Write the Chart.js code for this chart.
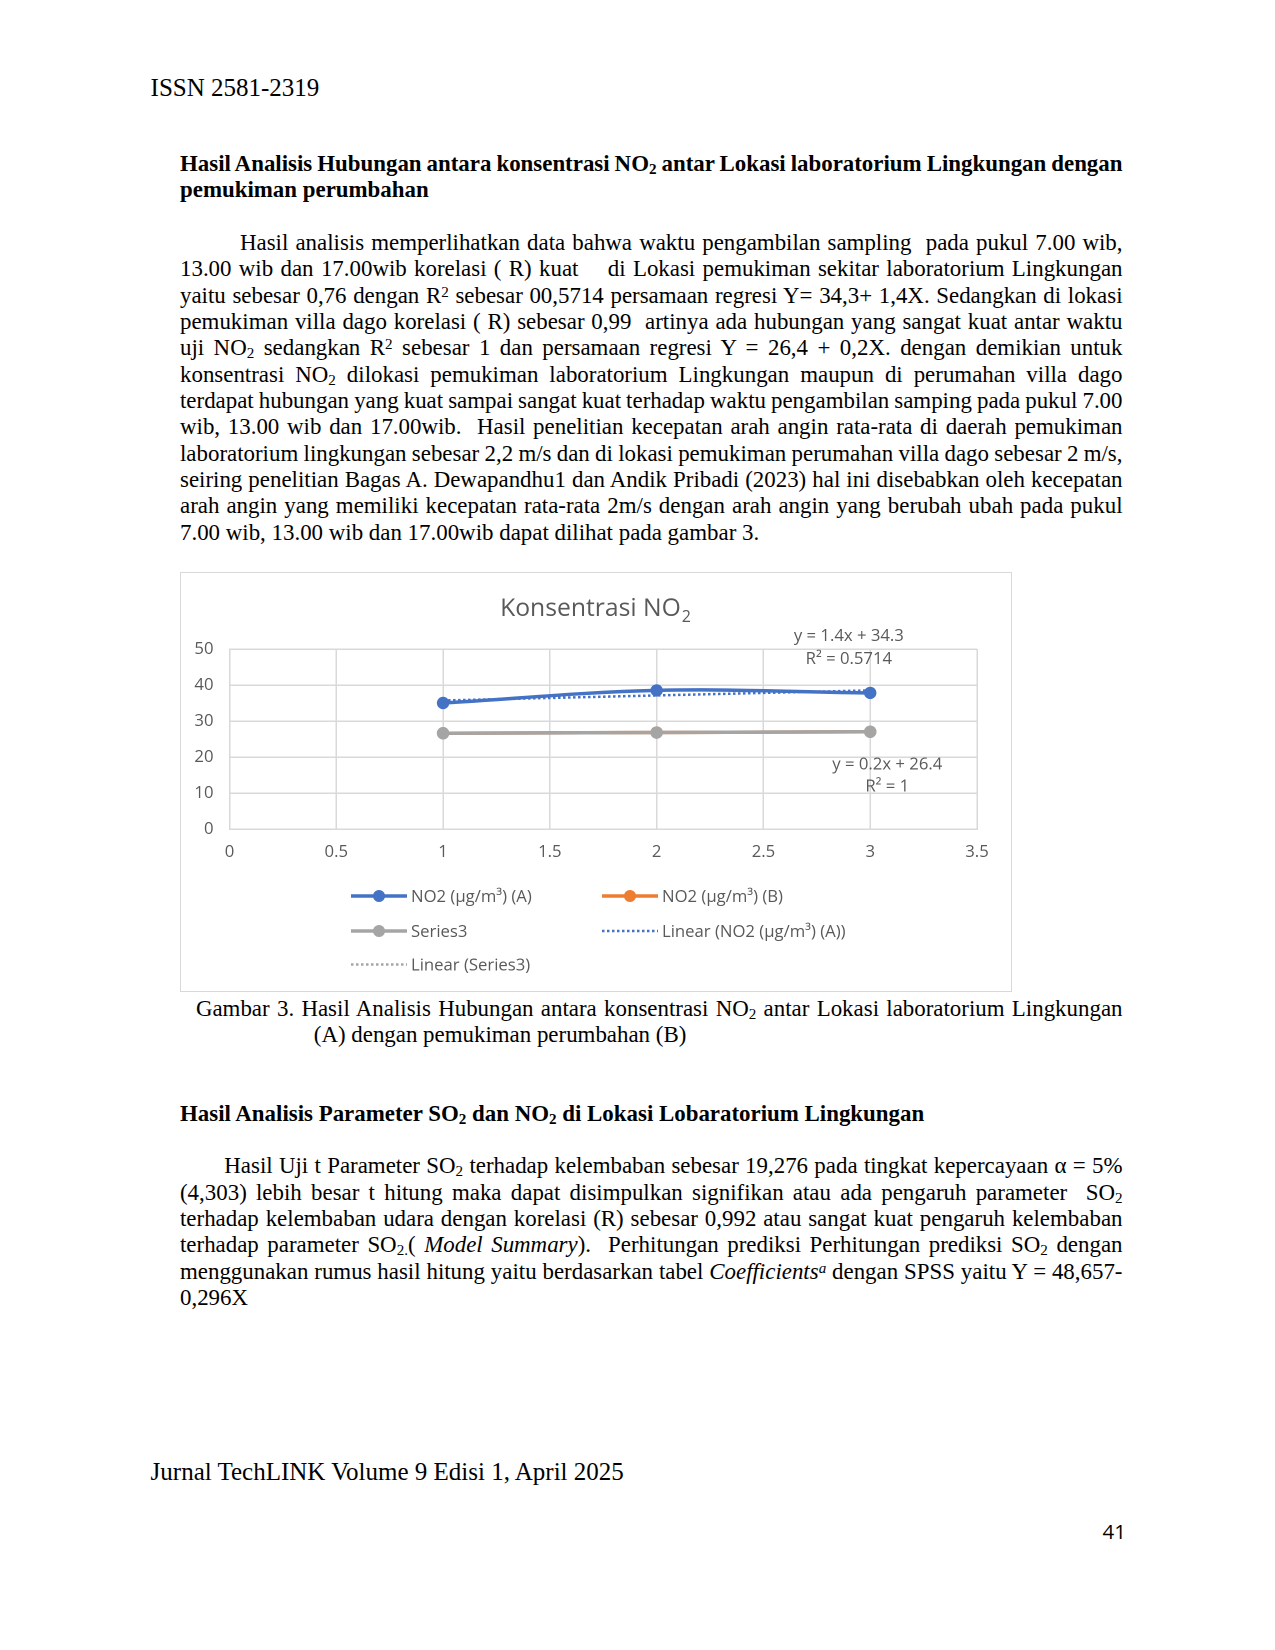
<!DOCTYPE html>
<html>
<head>
<meta charset="utf-8">
<title>Konsentrasi NO2</title>
<script src="https://cdn.jsdelivr.net/npm/chart.js@4.4.0/dist/chart.umd.min.js"></script>
<style>
html, body { margin: 0; padding: 0; background: #fff; }
body { width: 1275px; height: 1650px; position: relative; overflow: hidden;
       font-family: "Liberation Serif", "Times New Roman", serif; color: #000; }
.ln { position: absolute; white-space: pre; font-size: 22.9px; line-height: 26.35px; }
.hd { font-size: 25px; line-height: 28.75px; }
.b { font-weight: bold; }
.ln sub { font-size: 0.66em; vertical-align: -0.22em; line-height: 0; }
.ln sup { font-size: 0.66em; vertical-align: 0.42em; line-height: 0; }
#pg { position: absolute; font-family: "Open Sans", sans-serif; font-size: 20.5px; line-height: 24px; }
#chartBox { position: absolute; left: 180px; top: 572px; width: 832px; height: 420px;
            box-sizing: border-box; border: 1px solid #d9d9d9; background: #fff; }
#chartBox canvas { display: block; }
</style>
</head>
<body>

<div id="chartBox"><canvas id="myChart" width="830" height="418"></canvas></div>
<div id="pg">41</div>

<script>
// DATOS DEL GRAFICO
const CATEGORIES = [1, 2, 3];
const NO2_A = [35.0, 38.5, 37.8];
const NO2_B = [26.6, 26.8, 27.0];
const SERIES3 = [26.6, 26.8, 27.0];
const X_TICKS = [0, 0.5, 1, 1.5, 2, 2.5, 3, 3.5];
const Y_TICKS = [0, 10, 20, 30, 40, 50];
const SERIES_NAMES = ['NO2 (µg/m³) (A)', 'NO2 (µg/m³) (B)', 'Series3'];

const BLUE = '#4472C4';
const ORANGE = '#ED7D31';
const GRAY = '#A5A5A5';
const TEXT = '#595959';
const GRID = '#d9d9d9';

// TEXTO DE LA PAGINA: [html, izquierda, centro y, derecha (0 = sin justificar), clases]
const PAGE_LINES = [
    ['ISSN 2581-2319', 150.6, 88.3, 0, 'hd'],
    ['Hasil Analisis Hubungan antara konsentrasi NO<sub>2</sub> antar Lokasi laboratorium Lingkungan dengan', 180, 164.3, 1122.5, 'b'],
    ['pemukiman perumbahan', 180, 190.6, 0, 'b'],

    ['Hasil analisis memperlihatkan data bahwa waktu pengambilan sampling  pada pukul 7.00 wib,', 240, 243.2, 1122.5, ''],
    ['13.00 wib dan 17.00wib korelasi ( R) kuat    di Lokasi pemukiman sekitar laboratorium Lingkungan', 180, 269.5, 1122.5, ''],
    ['yaitu sebesar 0,76 dengan R<sup>2</sup> sebesar 00,5714 persamaan regresi Y= 34,3+ 1,4X. Sedangkan di lokasi', 180, 295.9, 1122.5, ''],
    ['pemukiman villa dago korelasi ( R) sebesar 0,99  artinya ada hubungan yang sangat kuat antar waktu', 180, 322.2, 1122.5, ''],
    ['uji NO<sub>2</sub> sedangkan R<sup>2</sup> sebesar 1 dan persamaan regresi Y = 26,4 + 0,2X. dengan demikian untuk', 180, 348.5, 1122.5, ''],
    ['konsentrasi NO<sub>2</sub> dilokasi pemukiman laboratorium Lingkungan maupun di perumahan villa dago', 180, 374.9, 1122.5, ''],
    ['terdapat hubungan yang kuat sampai sangat kuat terhadap waktu pengambilan samping pada pukul 7.00', 180, 401.2, 1122.5, ''],
    ['wib, 13.00 wib dan 17.00wib.  Hasil penelitian kecepatan arah angin rata-rata di daerah pemukiman', 180, 427.5, 1122.5, ''],
    ['laboratorium lingkungan sebesar 2,2 m/s dan di lokasi pemukiman perumahan villa dago sebesar 2 m/s,', 180, 453.9, 1122.5, ''],
    ['seiring penelitian Bagas A. Dewapandhu1 dan Andik Pribadi (2023) hal ini disebabkan oleh kecepatan', 180, 480.2, 1122.5, ''],
    ['arah angin yang memiliki kecepatan rata-rata 2m/s dengan arah angin yang berubah ubah pada pukul', 180, 506.5, 1122.5, ''],
    ['7.00 wib, 13.00 wib dan 17.00wib dapat dilihat pada gambar 3.', 180, 532.9, 0, ''],

    ['Gambar 3. Hasil Analisis Hubungan antara konsentrasi NO<sub>2</sub> antar Lokasi laboratorium Lingkungan', 195.9, 1008.8, 1122.5, ''],
    ['(A) dengan pemukiman perumbahan (B)', 313.8, 1035.1, 0, ''],

    ['Hasil Analisis Parameter SO<sub>2</sub> dan NO<sub>2</sub> di Lokasi Lobaratorium Lingkungan', 180, 1114, 0, 'b'],

    ['Hasil Uji t Parameter SO<sub>2</sub> terhadap kelembaban sebesar 19,276 pada tingkat kepercayaan α = 5%', 224.3, 1166.7, 1122.5, ''],
    ['(4,303) lebih besar t hitung maka dapat disimpulkan signifikan atau ada pengaruh parameter  SO<sub>2</sub>', 180, 1193, 1122.5, ''],
    ['terhadap kelembaban udara dengan korelasi (R) sebesar 0,992 atau sangat kuat pengaruh kelembaban', 180, 1219.4, 1122.5, ''],
    ['terhadap parameter SO<sub>2.</sub>( <i>Model Summary</i>).  Perhitungan prediksi Perhitungan prediksi SO<sub>2</sub> dengan', 180, 1245.7, 1122.5, ''],
    ['menggunakan rumus hasil hitung yaitu berdasarkan tabel <i>Coefficients<sup>a</sup></i> dengan SPSS yaitu Y = 48,657-', 180, 1272, 1122.5, ''],
    ['0,296X', 180, 1298.4, 0, ''],

    ['Jurnal TechLINK Volume 9 Edisi 1, April 2025', 150.6, 1472, 0, 'hd']
];

// Escribe cada renglon y lo justifica ajustando el espacio entre palabras
PAGE_LINES.forEach(([html, left, cy, right, cls]) => {
    const div = document.createElement('div');
    div.className = 'ln ' + cls;
    div.innerHTML = html;
    document.body.appendChild(div);
    const half = cls.includes('hd') ? 14.5 : 13.3;
    div.style.left = left + 'px';
    div.style.top = (cy - half) + 'px';
    if (right) {
        const natural = div.getBoundingClientRect().width;
        const spaces = (div.textContent.match(/ /g) || []).length;
        const target = right - left;
        if (spaces) div.style.wordSpacing = ((target - natural) / spaces) + 'px';
    }
});

const pg = document.getElementById('pg');
pg.style.left = (1126 - pg.getBoundingClientRect().width) + 'px';
pg.style.top = (1532 - 13) + 'px';

// Regresion lineal (linea de tendencia de Excel)
const linearFit = (xs, ys) => {
    const n = xs.length;
    const mx = xs.reduce((a, v) => a + v, 0) / n;
    const my = ys.reduce((a, v) => a + v, 0) / n;
    let sxy = 0, sxx = 0, syy = 0;
    for (let i = 0; i < n; i++) {
        sxy += (xs[i] - mx) * (ys[i] - my);
        sxx += (xs[i] - mx) ** 2;
        syy += (ys[i] - my) ** 2;
    }
    const m = sxy / sxx;
    return { m, b: my - m * mx, r2: (sxy * sxy) / (sxx * syy) };
};

const fitA = linearFit(CATEGORIES, NO2_A);
const fit3 = linearFit(CATEGORIES, SERIES3);
const points = (ys) => CATEGORIES.map((x, i) => ({ x, y: ys[i] }));
const trend = (fit) => CATEGORIES.map((x) => ({ x, y: fit.m * x + fit.b }));
const eqText = (fit) => [
    `y = ${+fit.m.toFixed(1)}x + ${+fit.b.toFixed(1)}`,
    `R² = ${+fit.r2.toFixed(4)}`
];

const SMALL = 16.7;
const LEGEND_FONT = SMALL + 'px "Open Sans"';

// Titulo, ecuaciones de tendencia y leyenda dibujados a mano
const decor = {
    id: 'decor',
    afterDraw(chart) {
        const { ctx, scales: { x, y } } = chart;
        ctx.save();
        ctx.fillStyle = TEXT;

        // titulo con subindice
        ctx.textBaseline = 'alphabetic';
        ctx.textAlign = 'left';
        ctx.font = '24.7px "Open Sans"';
        const main = 'Konsentrasi NO';
        const w1 = ctx.measureText(main).width;
        ctx.font = '16px "Open Sans"';
        const w2 = ctx.measureText('2').width;
        const tx = chart.width / 2 - (w1 + w2) / 2 - 1;
        ctx.font = '24.7px "Open Sans"';
        ctx.fillText(main, tx, 43);
        ctx.font = '16px "Open Sans"';
        ctx.fillText('2', tx + w1 + 1, 49);

        // ecuaciones
        ctx.font = LEGEND_FONT;
        ctx.textAlign = 'center';
        ctx.textBaseline = 'middle';
        const [a1, a2] = eqText(fitA);
        ctx.fillText(a1, x.getPixelForValue(2.9), y.getPixelForValue(53.6));
        ctx.fillText(a2, x.getPixelForValue(2.9), y.getPixelForValue(47.2));
        const [b1, b2] = eqText(fit3);
        ctx.fillText(b1, x.getPixelForValue(3.08), y.getPixelForValue(17.9));
        ctx.fillText(b2, x.getPixelForValue(3.08), y.getPixelForValue(11.8));

        // leyenda en dos columnas
        const cols = [170, 421];
        const rows = [323, 358, 391.5];
        const slots = [[0, 0], [1, 0], [0, 1], [1, 1], [0, 2]];
        const legendOrder = [0, 1, 2, 3, 4];
        legendOrder.forEach((di, k) => {
            const ds = chart.data.datasets[di];
            const lx = cols[slots[k][0]];
            const ly = rows[slots[k][1]];
            ctx.save();
            ctx.strokeStyle = ds.borderColor;
            ctx.lineWidth = ds.borderWidth;
            ctx.setLineDash(ds.borderDash || []);
            ctx.beginPath();
            ctx.moveTo(lx, ly);
            ctx.lineTo(lx + 56, ly);
            ctx.stroke();
            if (ds.pointRadius > 0) {
                ctx.setLineDash([]);
                ctx.fillStyle = ds.backgroundColor;
                ctx.beginPath();
                ctx.arc(lx + 28, ly, 6, 0, Math.PI * 2);
                ctx.fill();
            }
            ctx.restore();
            ctx.font = LEGEND_FONT;
            ctx.textAlign = 'left';
            ctx.textBaseline = 'middle';
            ctx.fillStyle = TEXT;
            ctx.fillText(ds.label, lx + 60, ly + 1);
        });
        ctx.restore();
    }
};

const lineSet = (label, ys, color, order) => ({
    label,
    data: points(ys),
    borderColor: color,
    backgroundColor: color,
    borderWidth: 3.5,
    pointRadius: 6.2,
    pointBorderWidth: 0,
    pointHoverRadius: 6.2,
    tension: 0.35,
    order
});

const trendSet = (label, fit, color) => ({
    label,
    data: trend(fit),
    borderColor: color,
    backgroundColor: color,
    borderWidth: 2.5,
    borderDash: [2.5, 2.5],
    pointRadius: 0,
    tension: 0,
    order: 0
});

const axisTicks = (values) => (scale) => {
    scale.ticks = values.map((v) => ({ value: v }));
};

const chart = document.getElementById('myChart');

new Chart(chart, {
    type: 'line',
    data: {
        datasets: [
            lineSet(SERIES_NAMES[0], NO2_A, BLUE, 3),
            lineSet(SERIES_NAMES[1], NO2_B, ORANGE, 2),
            lineSet(SERIES_NAMES[2], SERIES3, GRAY, 1),
            trendSet('Linear (' + SERIES_NAMES[0] + ')', fitA, BLUE),
            trendSet('Linear (' + SERIES_NAMES[2] + ')', fit3, GRAY)
        ]
    },
    options: {
        responsive: false,
        animation: false,
        devicePixelRatio: 2,
        layout: { padding: { top: 76, right: 34, bottom: 132, left: 0 } },
        plugins: {
            legend: { display: false },
            title: { display: false },
            tooltip: { enabled: false }
        },
        scales: {
            x: {
                type: 'linear',
                min: 0,
                max: 3.5,
                afterBuildTicks: axisTicks(X_TICKS),
                afterFit: (s) => { s.height = 30; },
                grid: { color: GRID, lineWidth: 1.5, drawTicks: false },
                border: { color: GRID, width: 1.5 },
                ticks: {
                    color: TEXT,
                    padding: 13,
                    font: { family: 'Open Sans', size: SMALL },
                    callback: (v) => String(v)
                }
            },
            y: {
                min: 0,
                max: 50,
                afterBuildTicks: axisTicks(Y_TICKS),
                afterFit: (s) => { s.width = 48.5; },
                grid: { color: GRID, lineWidth: 1.5, drawTicks: false },
                border: { color: GRID, width: 1.5 },
                ticks: {
                    color: TEXT,
                    padding: 16,
                    font: { family: 'Open Sans', size: SMALL },
                    callback: (v) => String(v)
                }
            }
        }
    },
    plugins: [decor]
});
</script>
</body>
</html>
